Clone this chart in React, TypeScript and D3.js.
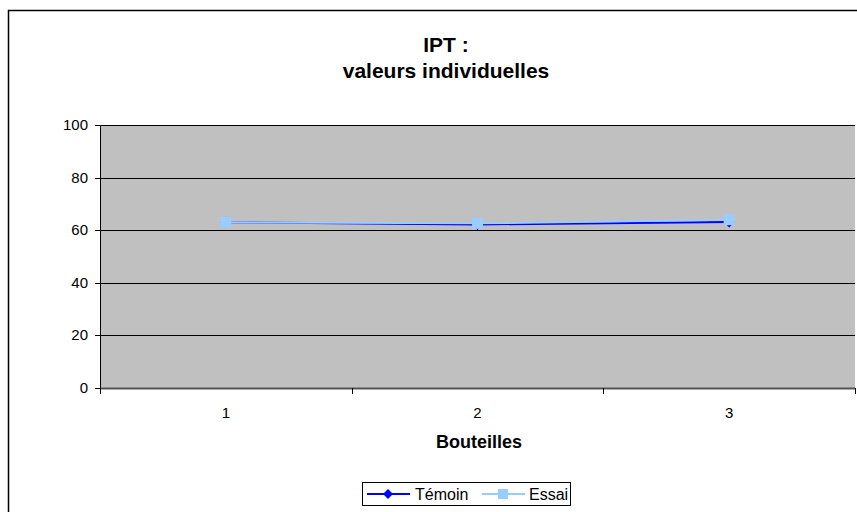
import React from "react";
import * as d3 from "d3";

const categories = ["1", "2", "3"];
const temoin = [63, 62.2, 63.1];
const essai = [63, 62.6, 64];
const yTicks = [0, 20, 40, 60, 80, 100];
const seriesNames = ["Témoin", "Essai"];

export default function App() {
  const W = 857, H = 512;
  const left = 100, right = 855, top = 125, bottom = 388;
  const x = d3.scaleBand<string>().domain(categories).range([left, right]);
  const y = d3.scaleLinear().domain([0, 100]).range([bottom, top]);
  const cx = (c: string) => (x(c) as number) + x.bandwidth() / 2;
  const line = d3.line<number>().x((_, i) => cx(categories[i])).y((v) => y(v));
  const font = "'Liberation Sans', Arial, sans-serif";
  const cTem = "#0000ff";
  const cEss = "#99ccff";
  const diamond = (px: number, py: number, r: number) =>
    `M${px},${py - r}L${px + r},${py}L${px},${py + r}L${px - r},${py}Z`;
  return (
    <svg width={W} height={H} style={{ position: "absolute", left: 0, top: 0 }} fontFamily={font}>
      <rect x={0} y={0} width={W} height={H} fill="#fff" />
      <path d={`M8.5,${H}V10.5H${W}`} fill="none" stroke="#000" strokeWidth={1.5} />
      <rect x={left} y={top} width={right - left} height={bottom - top} fill="#c0c0c0" />
      {yTicks.filter((t) => t > 0).map((t) => (
        <line key={t} x1={left} x2={right} y1={Math.round(y(t)) + 0.5} y2={Math.round(y(t)) + 0.5} stroke="#000" strokeWidth={1} />
      ))}
      <line x1={left + 0.5} x2={left + 0.5} y1={top} y2={bottom + 1} stroke="#000" />
      <line x1={left} x2={right} y1={bottom + 0.5} y2={bottom + 0.5} stroke="#555" strokeWidth={2} />
      {yTicks.map((t) => (
        <g key={t}>
          <line x1={left - 5} x2={left} y1={Math.round(y(t)) + 0.5} y2={Math.round(y(t)) + 0.5} stroke="#000" />
          <text x={88} y={y(t) + 5} textAnchor="end" fontSize={15} fill="#000">{t}</text>
        </g>
      ))}
      {[left, ...categories.map((c) => (x(c) as number) + x.bandwidth())].map((px, i) => (
        <line key={i} x1={Math.round(px) + 0.5} x2={Math.round(px) + 0.5} y1={bottom} y2={bottom + 6} stroke="#000" />
      ))}
      {categories.map((c) => (
        <text key={c} x={cx(c)} y={418} textAnchor="middle" fontSize={15} fill="#000">{c}</text>
      ))}
      <text x={479} y={448} textAnchor="middle" fontSize={18} fontWeight="bold" fill="#000">Bouteilles</text>
      <text x={446} y={52} textAnchor="middle" fontSize={21} fontWeight="bold" fill="#000">IPT :</text>
      <text x={446} y={78} textAnchor="middle" fontSize={21} fontWeight="bold" fill="#000">valeurs individuelles</text>

      <path d={line(temoin) as string} fill="none" stroke={cTem} strokeWidth={2} />
      {temoin.map((v, i) => (
        <path key={i} d={diamond(cx(categories[i]), y(v), 5.5)} fill={cTem} />
      ))}
      <path d={line(essai) as string} fill="none" stroke={cEss} strokeWidth={2} />
      {essai.map((v, i) => (
        <rect key={i} x={cx(categories[i]) - 5.5} y={y(v) - 5.5} width={11} height={11} fill={cEss} />
      ))}

      <rect x={362.5} y={482.5} width={208} height={23} fill="#fff" stroke="#000" />
      <line x1={367} x2={410} y1={494} y2={494} stroke={cTem} strokeWidth={2} />
      <path d={diamond(388, 494, 5)} fill={cTem} />
      <text x={415} y={500} fontSize={16} fill="#000">{seriesNames[0]}</text>
      <line x1={482} x2={525} y1={494} y2={494} stroke={cEss} strokeWidth={2} />
      <rect x={498} y={489} width={10} height={10} fill={cEss} />
      <text x={529} y={500} fontSize={16} fill="#000">{seriesNames[1]}</text>
    </svg>
  );
}
